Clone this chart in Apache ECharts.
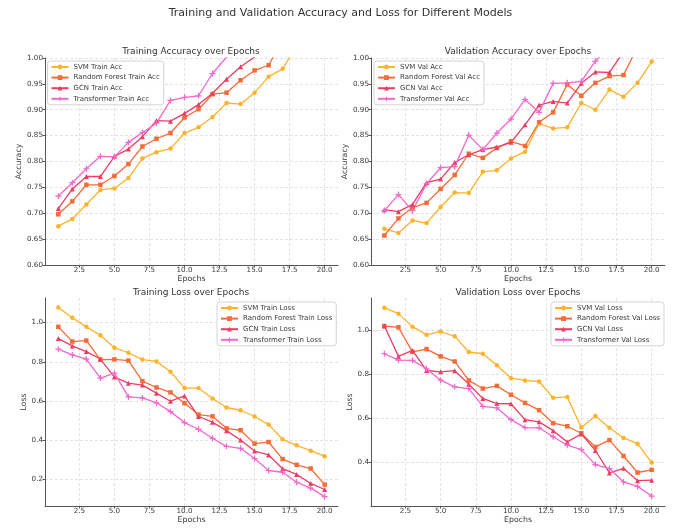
<!DOCTYPE html>
<html>
<head>
<meta charset="utf-8">
<script src="https://cdn.jsdelivr.net/npm/echarts@6/dist/echarts.min.js"></script>
<style>
  html, body { margin: 0; padding: 0; background: #fff; }
  #main { width: 681px; height: 528px; }
</style>
</head>
<body>
<div id="main"></div>
<script>
// epochs 1..20
var epochs = [1, 2, 3, 4, 5, 6, 7, 8, 9, 10, 11, 12, 13, 14, 15, 16, 17, 18, 19, 20];
var models = ['SVM', 'Random Forest', 'GCN', 'Transformer'];

// training accuracy (values above 1.0 are clipped by the axis)
var svmTrainAcc = [0.675, 0.689, 0.717, 0.745, 0.748, 0.768, 0.806, 0.818, 0.825, 0.855, 0.866, 0.886, 0.913, 0.911, 0.933, 0.964, 0.979, 1.024, 1.041, 1.062];
var rfTrainAcc  = [0.698, 0.723, 0.755, 0.755, 0.772, 0.795, 0.829, 0.844, 0.855, 0.885, 0.901, 0.930, 0.933, 0.957, 0.976, 0.986, 1.034, 1.052, 1.070, 1.090];
var gcnTrainAcc = [0.709, 0.747, 0.771, 0.771, 0.810, 0.824, 0.848, 0.879, 0.878, 0.893, 0.910, 0.932, 0.959, 0.983, 1.002, 1.030, 1.050, 1.070, 1.090, 1.110];
var tfTrainAcc  = [0.733, 0.759, 0.786, 0.810, 0.809, 0.837, 0.856, 0.874, 0.918, 0.924, 0.927, 0.970, 1.002, 1.030, 1.050, 1.080, 1.100, 1.120, 1.140, 1.160];

// validation accuracy
var svmValAcc = [0.670, 0.662, 0.686, 0.681, 0.712, 0.740, 0.739, 0.780, 0.783, 0.806, 0.819, 0.873, 0.864, 0.866, 0.913, 0.900, 0.939, 0.925, 0.952, 0.993];
var rfValAcc  = [0.657, 0.690, 0.711, 0.720, 0.747, 0.774, 0.815, 0.807, 0.826, 0.839, 0.830, 0.876, 0.895, 0.949, 0.927, 0.952, 0.965, 0.967, 1.022, 1.050];
var gcnValAcc = [0.707, 0.703, 0.717, 0.759, 0.766, 0.798, 0.813, 0.823, 0.828, 0.837, 0.871, 0.909, 0.916, 0.913, 0.951, 0.973, 0.972, 1.012, 1.040, 1.060];
var tfValAcc  = [0.705, 0.736, 0.705, 0.757, 0.788, 0.790, 0.851, 0.823, 0.855, 0.882, 0.920, 0.895, 0.951, 0.952, 0.955, 0.994, 1.020, 1.040, 1.060, 1.080];

// training loss
var svmTrainLoss = [1.077, 1.024, 0.978, 0.935, 0.872, 0.846, 0.811, 0.802, 0.749, 0.666, 0.666, 0.613, 0.567, 0.553, 0.521, 0.480, 0.405, 0.374, 0.347, 0.319];
var rfTrainLoss  = [0.978, 0.903, 0.908, 0.811, 0.812, 0.806, 0.701, 0.669, 0.644, 0.589, 0.531, 0.522, 0.461, 0.451, 0.383, 0.391, 0.304, 0.275, 0.256, 0.174];
var gcnTrainLoss = [0.918, 0.881, 0.852, 0.814, 0.722, 0.691, 0.681, 0.640, 0.599, 0.626, 0.521, 0.492, 0.449, 0.401, 0.345, 0.325, 0.255, 0.226, 0.180, 0.149];
var tfTrainLoss  = [0.864, 0.835, 0.814, 0.717, 0.742, 0.621, 0.616, 0.591, 0.546, 0.490, 0.456, 0.410, 0.369, 0.359, 0.307, 0.246, 0.237, 0.186, 0.156, 0.113];

// validation loss
var svmValLoss = [1.103, 1.076, 1.017, 0.980, 0.995, 0.973, 0.902, 0.894, 0.842, 0.783, 0.773, 0.768, 0.694, 0.698, 0.559, 0.611, 0.558, 0.512, 0.486, 0.400];
var rfValLoss  = [1.020, 1.014, 0.902, 0.915, 0.882, 0.859, 0.773, 0.736, 0.748, 0.708, 0.671, 0.638, 0.579, 0.565, 0.533, 0.471, 0.502, 0.430, 0.355, 0.367];
var gcnValLoss = [1.020, 0.882, 0.909, 0.818, 0.812, 0.817, 0.756, 0.691, 0.668, 0.667, 0.595, 0.585, 0.545, 0.494, 0.530, 0.455, 0.353, 0.374, 0.318, 0.320];
var tfValLoss  = [0.894, 0.865, 0.864, 0.826, 0.774, 0.744, 0.736, 0.655, 0.648, 0.595, 0.559, 0.558, 0.517, 0.479, 0.459, 0.391, 0.373, 0.312, 0.292, 0.248];

var xTicks = [2.5, 5, 7.5, 10, 12.5, 15, 17.5, 20];
var accTicks = [0.60, 0.65, 0.70, 0.75, 0.80, 0.85, 0.90, 0.95, 1.00];
var trainLossTicks = [0.2, 0.4, 0.6, 0.8, 1.0];
var valLossTicks = [0.4, 0.6, 0.8, 1.0];

var colors = ['#ffb22c', '#f76b38', '#ec3e62', '#f566cf'];
var plusPath = 'path://M4,0H6V4H10V6H6V10H4V6H0V4H4Z';
var symbols = ['circle', 'rect', 'triangle', plusPath];
var symbolSizes = [4.5, 4.5, 5, 6];

var FONT = 'DejaVu Sans';
var TXT = '#3a3a3a';

var myChart = echarts.init(document.getElementById('main'));

function xAxisCfg(idx) {
    return {
        type: 'value', gridIndex: idx, min: 0.05, max: 20.95,
        name: 'Epochs', nameLocation: 'middle', nameGap: 10,
        nameTextStyle: {fontFamily: FONT, fontSize: 7.8, color: TXT},
        axisLine: {show: true, lineStyle: {color: '#555', width: 1}},
        axisTick: {show: true, length: 2.5, customValues: xTicks, lineStyle: {color: '#555'}},
        axisLabel: {customValues: xTicks, fontFamily: FONT, fontSize: 7.2, color: TXT, margin: 2,
            formatter: function(v) { return v.toFixed(1); }},
        splitLine: {show: true, lineStyle: {color: '#dcdcdc', type: [3, 2], width: 0.8}}
    };
}

function yAxisCfg(idx, name, min, max, ticks, digits, gap) {
    return {
        type: 'value', gridIndex: idx, min: min, max: max,
        name: name, nameLocation: 'middle', nameRotate: 90, nameGap: gap,
        nameTextStyle: {fontFamily: FONT, fontSize: 7.8, color: TXT},
        axisLine: {show: true, lineStyle: {color: '#555', width: 1}},
        axisTick: {show: true, length: 2.5, customValues: ticks, lineStyle: {color: '#555'}},
        axisLabel: {customValues: ticks, fontFamily: FONT, fontSize: 7.2, color: TXT, margin: 2,
            formatter: function(v) { return v.toFixed(digits); }},
        splitLine: {show: true, lineStyle: {color: '#dcdcdc', type: [3, 2], width: 0.8}}
    };
}

var panels = [
    {suffix: 'Train Acc', data: [svmTrainAcc, rfTrainAcc, gcnTrainAcc, tfTrainAcc]},
    {suffix: 'Val Acc', data: [svmValAcc, rfValAcc, gcnValAcc, tfValAcc]},
    {suffix: 'Train Loss', data: [svmTrainLoss, rfTrainLoss, gcnTrainLoss, tfTrainLoss]},
    {suffix: 'Val Loss', data: [svmValLoss, rfValLoss, gcnValLoss, tfValLoss]}
];

var series = [];
var legends = [];
var legendPos = [
    {left: 47.5, top: 61},
    {left: 374, top: 61},
    {left: 217, top: 302},
    {left: 551, top: 302}
];
panels.forEach(function(p, pi) {
    var names = [];
    models.forEach(function(m, mi) {
        var nm = m + ' ' + p.suffix;
        names.push(nm);
        series.push({
            name: nm,
            type: 'line',
            xAxisIndex: pi,
            yAxisIndex: pi,
            symbol: symbols[mi],
            symbolSize: symbolSizes[mi],
            showAllSymbol: true,
            clip: true,
            animation: false,
            itemStyle: {color: colors[mi]},
            lineStyle: {color: colors[mi], width: 1.3},
            data: epochs.map(function(e, i) { return [e, p.data[mi][i]]; })
        });
    });
    legends.push({
        data: names,
        orient: 'vertical',
        left: legendPos[pi].left,
        top: legendPos[pi].top,
        itemWidth: 17,
        itemHeight: 6,
        itemGap: 2.6,
        padding: [2, 4, 2, 3],
        backgroundColor: 'rgba(255,255,255,0.85)',
        borderColor: '#d4d4d4',
        borderWidth: 1,
        borderRadius: 3,
        textStyle: {fontFamily: FONT, fontSize: 7, lineHeight: 8, color: TXT}
    });
});

option = {
    backgroundColor: '#ffffff',
    animation: false,
    title: [
        {text: 'Training and Validation Accuracy and Loss for Different Models', left: 'center', top: 3,
            textStyle: {fontFamily: FONT, fontSize: 11, fontWeight: 'normal', color: '#333'}},
        {text: 'Training Accuracy over Epochs', left: 186, top: 42, textAlign: 'center',
            textStyle: {fontFamily: FONT, fontSize: 9, fontWeight: 'normal', color: '#333'}},
        {text: 'Validation Accuracy over Epochs', left: 513, top: 42, textAlign: 'center',
            textStyle: {fontFamily: FONT, fontSize: 9, fontWeight: 'normal', color: '#333'}},
        {text: 'Training Loss over Epochs', left: 186, top: 283, textAlign: 'center',
            textStyle: {fontFamily: FONT, fontSize: 9, fontWeight: 'normal', color: '#333'}},
        {text: 'Validation Loss over Epochs', left: 513, top: 283, textAlign: 'center',
            textStyle: {fontFamily: FONT, fontSize: 9, fontWeight: 'normal', color: '#333'}}
    ],
    legend: legends,
    grid: [
        {left: 45, top: 58, width: 293, height: 207},
        {left: 371, top: 58, width: 294, height: 207},
        {left: 45, top: 298, width: 293, height: 208},
        {left: 371, top: 298, width: 294, height: 208}
    ],
    xAxis: [xAxisCfg(0), xAxisCfg(1), xAxisCfg(2), xAxisCfg(3)],
    yAxis: [
        yAxisCfg(0, 'Accuracy', 0.6, 1.0, accTicks, 2, 19),
        yAxisCfg(1, 'Accuracy', 0.6, 1.0, accTicks, 2, 19),
        yAxisCfg(2, 'Loss', 0.065, 1.125, trainLossTicks, 1, 14),
        yAxisCfg(3, 'Loss', 0.203, 1.147, valLossTicks, 1, 13)
    ],
    series: series
};

myChart.setOption(option);
</script>
</body>
</html>
